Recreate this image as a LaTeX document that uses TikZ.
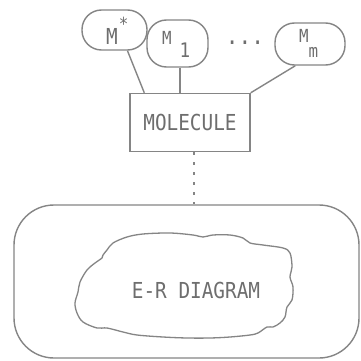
\documentclass[tikz,border=0pt]{standalone}
\usepackage{fontspec}
\newfontfamily\plotfont[FakeStretch=0.88]{DejaVu Sans Mono}
\definecolor{inkgray}{HTML}{858585}
\definecolor{textgray}{HTML}{6E6E6E}
\begin{document}
\begin{tikzpicture}[x=1pt,y=-1pt,
  ink/.style={draw=inkgray, line width=1.4pt},
  oval/.style={ink, rounded corners=19.5pt, inner sep=0pt},
  lbl/.style={text=textgray, inner sep=0pt, font=\plotfont},
  big/.style={lbl, font=\plotfont\fontsize{22}{22}\selectfont}]
\useasboundingbox (0,0) rectangle (361,361);
\fill[white] (0,0) rectangle (361,361);

% member ovals
\node[oval, minimum width=65pt, minimum height=40pt] (ms) at (114.5,30) {};
\node[oval, minimum width=61pt, minimum height=47pt] (m1) at (177.5,43.5) {};
\node[oval, minimum width=70pt, minimum height=42pt] (mm) at (310,44) {};

% their labels
\node[lbl, anchor=base west] (msl) at (106,45)
  {\fontsize{22}{22}\selectfont M\kern1pt\raisebox{14pt}{\fontsize{18}{18}\selectfont *}};
\node[lbl, anchor=base west] (m1l) at (162,45)
  {\fontsize{18}{18}\selectfont M\kern8pt\raisebox{-13pt}{\fontsize{20}{20}\selectfont 1}};
\node[lbl, anchor=base west] (mml) at (299,43)
  {\fontsize{18}{18}\selectfont M\raisebox{-14pt}{m}};
\node[lbl, anchor=base] (dots) at (245,45) {\fontsize{24}{24}\selectfont ...};

% the molecule box
\node[ink, big, minimum width=120pt, minimum height=58pt] (mol) at (190,122.5) {MOLECULE};

\draw[ink] (ms.-58) -- ([xshift=15pt]mol.north west);
\draw[ink] ([xshift=2.5pt]m1.south) coordinate (m1foot) -- (m1foot |- mol.north);
\draw[ink] (mm.-124) -- (mol.north east);

% the surrounding E-R frame
\node[ink, rounded corners=40pt, minimum width=345pt, minimum height=153pt] (frame) at (186.5,281.5) {};
\draw[inkgray, line width=1.6pt, dash pattern=on 3pt off 7pt]
  ([xshift=4pt]mol.south) coordinate (molfoot) -- (molfoot |- frame.north);

% cloud with the diagram inside
\draw[ink, line width=1.3pt] plot[smooth cycle, tension=0.55] coordinates {
  (103,255) (107,250) (113,243) (127,237) (143,234) (170,233) (193,235)
  (203,237) (213,235) (230,235) (243,238) (250,243) (263,245) (283,248)
  (290,253) (292,267) (290,277) (293,287) (292,300) (287,307) (285,317)
  (280,323) (273,327) (267,327) (258,333) (250,335) (230,337) (210,338)
  (187,338) (163,337) (137,335) (123,332) (107,328) (97,328) (83,322)
  (77,313) (75,303) (78,292) (80,282) (87,270) (95,263) (102,258)};
\node[big, anchor=base] (er) at (196,298) {E-R DIAGRAM};
\end{tikzpicture}
\end{document}
